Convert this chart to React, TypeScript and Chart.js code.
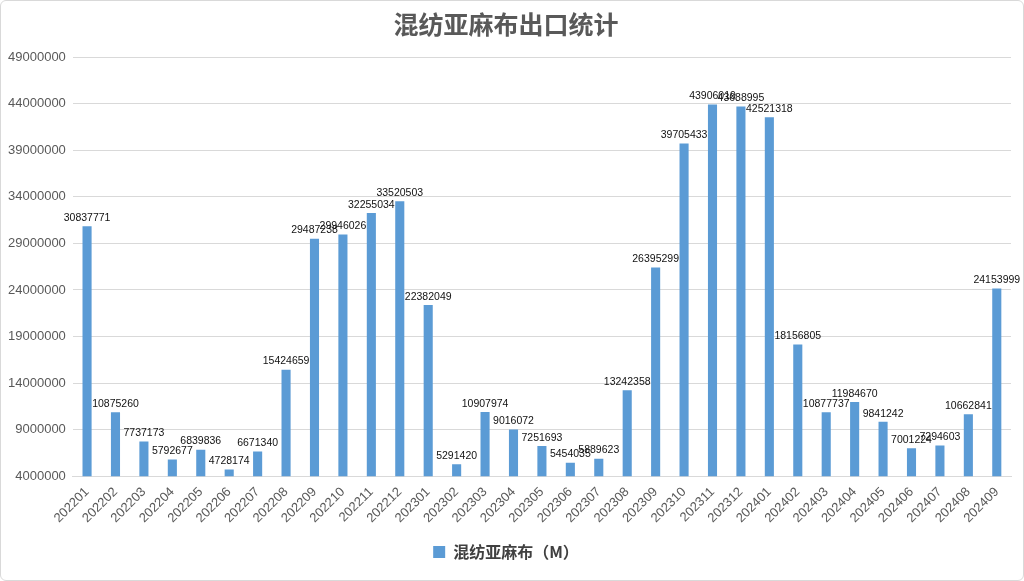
import React, { useEffect, useRef } from "react";
import { Chart, registerables } from "chart.js";

Chart.register(...registerables);

const months = [
  "202201", "202202", "202203", "202204", "202205", "202206", "202207", "202208",
  "202209", "202210", "202211", "202212", "202301", "202302", "202303", "202304",
  "202305", "202306", "202307", "202308", "202309", "202310", "202311", "202312",
  "202401", "202402", "202403", "202404", "202405", "202406", "202407", "202408",
  "202409",
];

const exportValues = [
  30837771, 10875260, 7737173, 5792677, 6839836, 4728174, 6671340, 15424659,
  29487238, 29946026, 32255034, 33520503, 22382049, 5291420, 10907974, 9016072,
  7251693, 5454035, 5889623, 13242358, 26395299, 39705433, 43906019, 43688995,
  42521318, 18156805, 10877737, 11984670, 9841242, 7001224, 7294603, 10662841,
  24153999,
];

const seriesName = "混纺亚麻布（M）";
const chartTitle = "混纺亚麻布出口统计";
const yMin = 4000000;
const yMax = 49000000;
const yStep = 5000000;

const valueLabelPlugin = {
  id: "valueLabels",
  afterDatasetsDraw(chart: any) {
    const ctx = chart.ctx;
    const meta = chart.getDatasetMeta(0);
    const data = chart.data.datasets[0].data as number[];
    ctx.save();
    ctx.font = "10.5px 'Liberation Sans', Arial, sans-serif";
    ctx.fillStyle = "#111111";
    ctx.textAlign = "center";
    ctx.textBaseline = "bottom";
    meta.data.forEach((bar: any, i: number) => {
      ctx.fillText(String(data[i]), bar.x, bar.y - 3);
    });
    ctx.restore();
  },
};

export default function App() {
  const canvasRef = useRef<HTMLCanvasElement | null>(null);

  useEffect(() => {
    document.body.style.margin = "0";
    const canvas = canvasRef.current;
    if (!canvas) return;
    const chart = new Chart(canvas, {
      type: "bar",
      data: {
        labels: months,
        datasets: [
          {
            label: seriesName,
            data: exportValues,
            backgroundColor: "#5B9BD5",
            borderWidth: 0,
            barPercentage: 0.32,
            categoryPercentage: 1,
          },
        ],
      },
      options: {
        animation: false,
        responsive: true,
        maintainAspectRatio: false,
        layout: { padding: { left: 0, right: 12, top: 8, bottom: 10 } },
        plugins: {
          title: {
            display: true,
            text: chartTitle,
            color: "#595959",
            font: { family: "'Noto Sans CJK SC', sans-serif", size: 25, weight: "bold" },
            padding: { top: 0, bottom: 18 },
          },
          legend: {
            display: true,
            position: "bottom",
            labels: {
              color: "#404040",
              boxWidth: 12,
              boxHeight: 12,
              font: { family: "'Noto Sans CJK SC', sans-serif", size: 16, weight: "bold" },
              padding: 10,
            },
          },
          tooltip: { enabled: false },
        },
        scales: {
          x: {
            grid: { display: false, drawTicks: false },
            border: { display: true, color: "#d9d9d9" },
            ticks: {
              color: "#595959",
              font: { family: "'Liberation Sans', Arial, sans-serif", size: 13 },
              minRotation: 45,
              maxRotation: 45,
              autoSkip: false,
              padding: 8,
            },
          },
          y: {
            min: yMin,
            max: yMax,
            grid: { color: "#d9d9d9", drawTicks: false },
            border: { display: false },
            ticks: {
              stepSize: yStep,
              color: "#595959",
              font: { family: "'Liberation Sans', Arial, sans-serif", size: 13 },
              padding: 7,
              callback: (v: any) => String(v),
            },
          },
        },
      },
      plugins: [valueLabelPlugin],
    });
    return () => chart.destroy();
  }, []);

  return (
    <div
      style={{
        position: "fixed",
        left: 0,
        top: 0,
        width: 1024,
        height: 581,
        boxSizing: "border-box",
        border: "1px solid #d9d9d9",
        borderRadius: 6,
        background: "#ffffff",
      }}
    >
      <canvas ref={canvasRef} />
    </div>
  );
}
